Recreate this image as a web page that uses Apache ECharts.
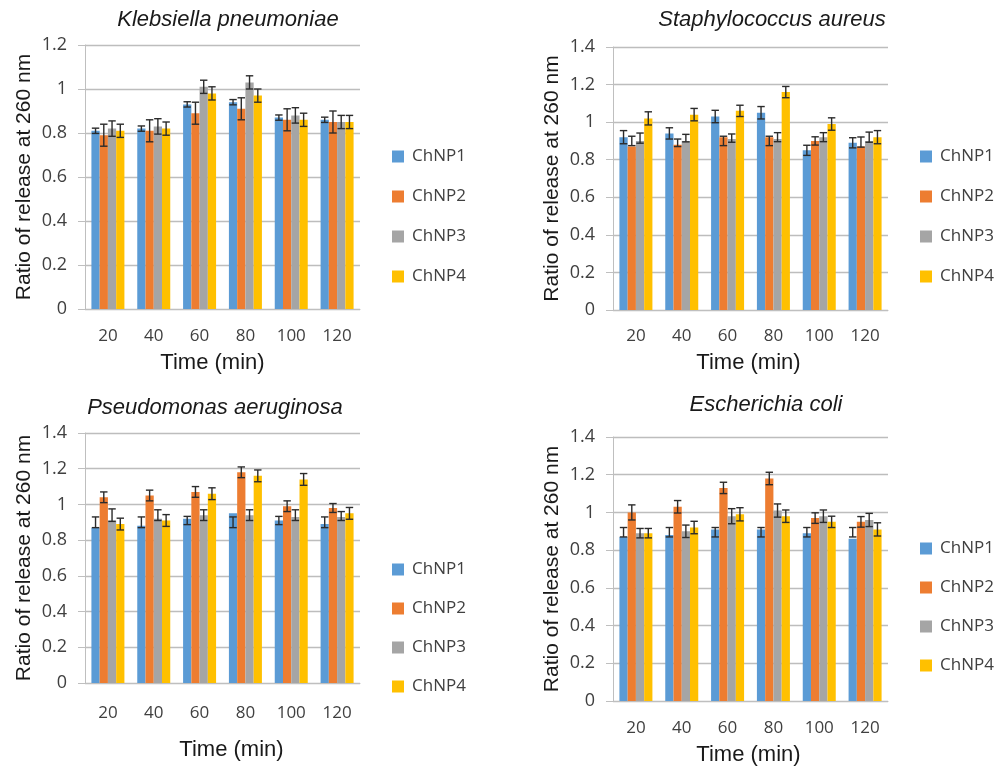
<!DOCTYPE html>
<html>
<head>
<meta charset="utf-8">
<script src="https://cdn.jsdelivr.net/npm/echarts@6/dist/echarts.min.js"></script>
<style>
html,body{margin:0;padding:0;background:#fff;}
#chart{width:995px;height:770px;}
</style>
</head>
<body>
<div id="chart"></div>
<script>
// ---------- DATA ----------
const categories = ['20', '40', '60', '80', '100', '120'];
const seriesNames = ['ChNP1', 'ChNP2', 'ChNP3', 'ChNP4'];
const panelTitles = ['Klebsiella pneumoniae', 'Staphylococcus aureus', 'Pseudomonas aeruginosa', 'Escherichia coli'];
const yMaxes = [1.2, 1.4, 1.4, 1.4];
const yLabel = 'Ratio of release at 260 nm';
const xLabel = 'Time (min)';

// Klebsiella pneumoniae
const kp1 = [0.81, 0.82, 0.93, 0.94, 0.87, 0.86];
const kp2 = [0.79, 0.81, 0.89, 0.91, 0.86, 0.85];
const kp3 = [0.82, 0.83, 1.01, 1.03, 0.88, 0.85];
const kp4 = [0.81, 0.82, 0.98, 0.97, 0.86, 0.85];
const kpErr1 = [0.012, 0.012, 0.012, 0.012, 0.012, 0.012];
const kpErr2 = [0.05, 0.05, 0.05, 0.05, 0.05, 0.05];
const kpErr3 = [0.035, 0.035, 0.03, 0.03, 0.035, 0.03];
const kpErr4 = [0.03, 0.03, 0.03, 0.03, 0.03, 0.03];

// Staphylococcus aureus
const sa1 = [0.92, 0.94, 1.03, 1.05, 0.85, 0.89];
const sa2 = [0.87, 0.88, 0.92, 0.92, 0.90, 0.87];
const sa3 = [0.90, 0.90, 0.91, 0.91, 0.92, 0.90];
const sa4 = [1.02, 1.04, 1.06, 1.16, 0.99, 0.92];
const saErr1 = [0.035, 0.03, 0.033, 0.033, 0.027, 0.027];
const saErr2 = [0.025, 0.02, 0.025, 0.025, 0.022, 0.027];
const saErr3 = [0.027, 0.02, 0.022, 0.024, 0.024, 0.027];
const saErr4 = [0.035, 0.033, 0.03, 0.03, 0.033, 0.035];
const saErrMid2 = [0.90, 0.89, 0.90, 0.90, 0.90, 0.894];
const saErrMid3 = [0.915, 0.915, 0.915, 0.92, 0.92, 0.92];

// Pseudomonas aeruginosa
const pa1 = [0.87, 0.88, 0.92, 0.95, 0.91, 0.89];
const pa2 = [1.04, 1.05, 1.07, 1.18, 0.99, 0.98];
const pa3 = [0.91, 0.92, 0.94, 0.94, 0.93, 0.93];
const pa4 = [0.89, 0.91, 1.06, 1.16, 1.14, 0.95];
const paErr1 = [0.03, 0.03, 0.023, 0.03, 0.023, 0.03];
const paErr2 = [0.03, 0.03, 0.03, 0.03, 0.03, 0.025];
const paErr3 = [0.035, 0.03, 0.03, 0.03, 0.03, 0.025];
const paErr4 = [0.033, 0.033, 0.033, 0.033, 0.033, 0.033];
const paErrMid1 = [0.90, 0.90, 0.91, 0.90, 0.91, 0.90];
const paErrMid3 = [0.94, 0.94, 0.94, 0.94, 0.94, 0.935];

// Escherichia coli
const ec1 = [0.87, 0.88, 0.91, 0.91, 0.89, 0.86];
const ec2 = [1.00, 1.03, 1.13, 1.18, 0.97, 0.95];
const ec3 = [0.89, 0.90, 0.98, 1.01, 0.98, 0.96];
const ec4 = [0.89, 0.92, 0.99, 0.98, 0.95, 0.91];
const ecErr1 = [0.025, 0.025, 0.025, 0.025, 0.025, 0.025];
const ecErr2 = [0.04, 0.033, 0.03, 0.033, 0.028, 0.028];
const ecErr3 = [0.025, 0.033, 0.04, 0.035, 0.033, 0.035];
const ecErr4 = [0.025, 0.033, 0.035, 0.033, 0.03, 0.035];
const ecErrMid1 = [0.895, 0.895, 0.895, 0.895, 0.895, 0.895];

// ---------- ASSEMBLY ----------
const panels = [
  { vals: [kp1, kp2, kp3, kp4], errs: [kpErr1, kpErr2, kpErr3, kpErr4], mids: [null, null, null, null] },
  { vals: [sa1, sa2, sa3, sa4], errs: [saErr1, saErr2, saErr3, saErr4], mids: [null, saErrMid2, saErrMid3, null] },
  { vals: [pa1, pa2, pa3, pa4], errs: [paErr1, paErr2, paErr3, paErr4], mids: [paErrMid1, null, paErrMid3, null] },
  { vals: [ec1, ec2, ec3, ec4], errs: [ecErr1, ecErr2, ecErr3, ecErr4], mids: [ecErrMid1, null, null, null] }
];

const colors = ['#5B9BD5', '#ED7D31', '#A5A5A5', '#FFC000'];
const layout = [
  { grid: { left: 85, top: 45, width: 275, height: 264 }, title: [228, 20], legend: [392, 147, 21], labMargin: 19, xGap: 43, yGap: 50, xPad: [0, 20, 0, 0] },
  { grid: { left: 613, top: 47, width: 275, height: 263 }, title: [772, 20], legend: [920, 147, 21], labMargin: 18, xGap: 42, yGap: 50, xPad: [0, 4, 0, 0] },
  { grid: { left: 85, top: 433, width: 275, height: 250 }, title: [215, 408], legend: [392, 560, 20], labMargin: 22, xGap: 56, yGap: 50, xPad: [0, 0, 0, 18] },
  { grid: { left: 613, top: 437, width: 275, height: 264 }, title: [766, 405], legend: [920, 539, 20], labMargin: 19, xGap: 43, yGap: 50, xPad: [0, 4, 0, 0] }
];

const CAT_GAP = 0.28;
const gridLine = '#BDBDBD';
const labelFont = 'Open Sans';
const nameFont = 'Liberation Sans';

const option = {
  animation: false,
  backgroundColor: '#ffffff',
  color: colors,
  grid: layout.map(l => l.grid),
  xAxis: layout.map((l, i) => ({
    type: 'category', gridIndex: i, data: categories,
    axisLine: { show: true, lineStyle: { color: '#BFBFBF', width: 1 } },
    axisTick: { show: false },
    axisLabel: { margin: l.labMargin, fontFamily: labelFont, fontSize: 17, color: '#404040' },
    name: xLabel, nameLocation: 'middle', nameGap: l.xGap,
    nameTextStyle: { fontFamily: nameFont, fontSize: 22, color: '#1a1a1a', padding: l.xPad }
  })),
  yAxis: layout.map((l, i) => ({
    type: 'value', gridIndex: i, min: 0, max: yMaxes[i], interval: 0.2,
    axisLine: { show: true, lineStyle: { color: '#BFBFBF', width: 1 } },
    axisTick: { show: true, length: 7, lineStyle: { color: '#BFBFBF' } },
    splitLine: { show: true, lineStyle: { color: gridLine, width: 1.3 } },
    axisLabel: { margin: 18, fontFamily: labelFont, fontSize: 18, color: '#404040',
      formatter: v => String(Math.round(v * 10) / 10) },
    name: yLabel, nameLocation: 'middle', nameGap: l.yGap, nameRotate: 90,
    nameTextStyle: { fontFamily: nameFont, fontSize: 21, color: '#1a1a1a' }
  })),
  legend: layout.map(l => ({
    data: seriesNames, orient: 'vertical', left: l.legend[0], top: l.legend[1],
    itemGap: l.legend[2], itemWidth: 12, itemHeight: 12, icon: 'rect', padding: 0,
    textStyle: { fontFamily: labelFont, fontSize: 17, color: '#404040', lineHeight: 19, padding: [0, 0, 0, 3] },
    selectedMode: false
  })),
  graphic: layout.map((l, i) => ({
    type: 'text', x: l.title[0], y: l.title[1],
    style: { text: panelTitles[i], fontFamily: nameFont, fontStyle: 'italic', fontSize: 22,
      fill: '#1a1a1a', textAlign: 'center', textVerticalAlign: 'middle' }
  })),
  series: []
};

panels.forEach((p, pi) => {
  p.vals.forEach((arr, si) => {
    option.series.push({
      type: 'bar', name: seriesNames[si], xAxisIndex: pi, yAxisIndex: pi,
      data: arr, barGap: '0%', barCategoryGap: (CAT_GAP * 100) + '%',
      itemStyle: { color: colors[si] }, z: 2
    });
  });
  const errData = [];
  p.vals.forEach((arr, si) => {
    arr.forEach((v, ci) => {
      const mid = p.mids[si] ? p.mids[si][ci] : v;
      const e = p.errs[si][ci];
      errData.push([ci, mid - e, mid + e, si]);
    });
  });
  option.series.push({
    type: 'custom', xAxisIndex: pi, yAxisIndex: pi, z: 5,
    data: errData,
    encode: { x: 0, y: [1, 2] },
    renderItem: function (params, api) {
      const ci = api.value(0), lo = api.value(1), hi = api.value(2), si = api.value(3);
      const band = api.size([1, 0])[0];
      const bw = band * (1 - CAT_GAP) / 4;
      const pL = api.coord([ci, lo]);
      const pH = api.coord([ci, hi]);
      const x = pL[0] + (si - 1.5) * bw;
      const cap = bw * 0.45;
      const st = { stroke: '#2b2b2b', lineWidth: 1.4 };
      return {
        type: 'group',
        children: [
          { type: 'line', shape: { x1: x, y1: pL[1], x2: x, y2: pH[1] }, style: st },
          { type: 'line', shape: { x1: x - cap, y1: pL[1], x2: x + cap, y2: pL[1] }, style: st },
          { type: 'line', shape: { x1: x - cap, y1: pH[1], x2: x + cap, y2: pH[1] }, style: st }
        ]
      };
    }
  });
});

const chart = echarts.init(document.getElementById('chart'), null, { renderer: 'canvas' });
chart.setOption(option);
</script>
</body>
</html>
